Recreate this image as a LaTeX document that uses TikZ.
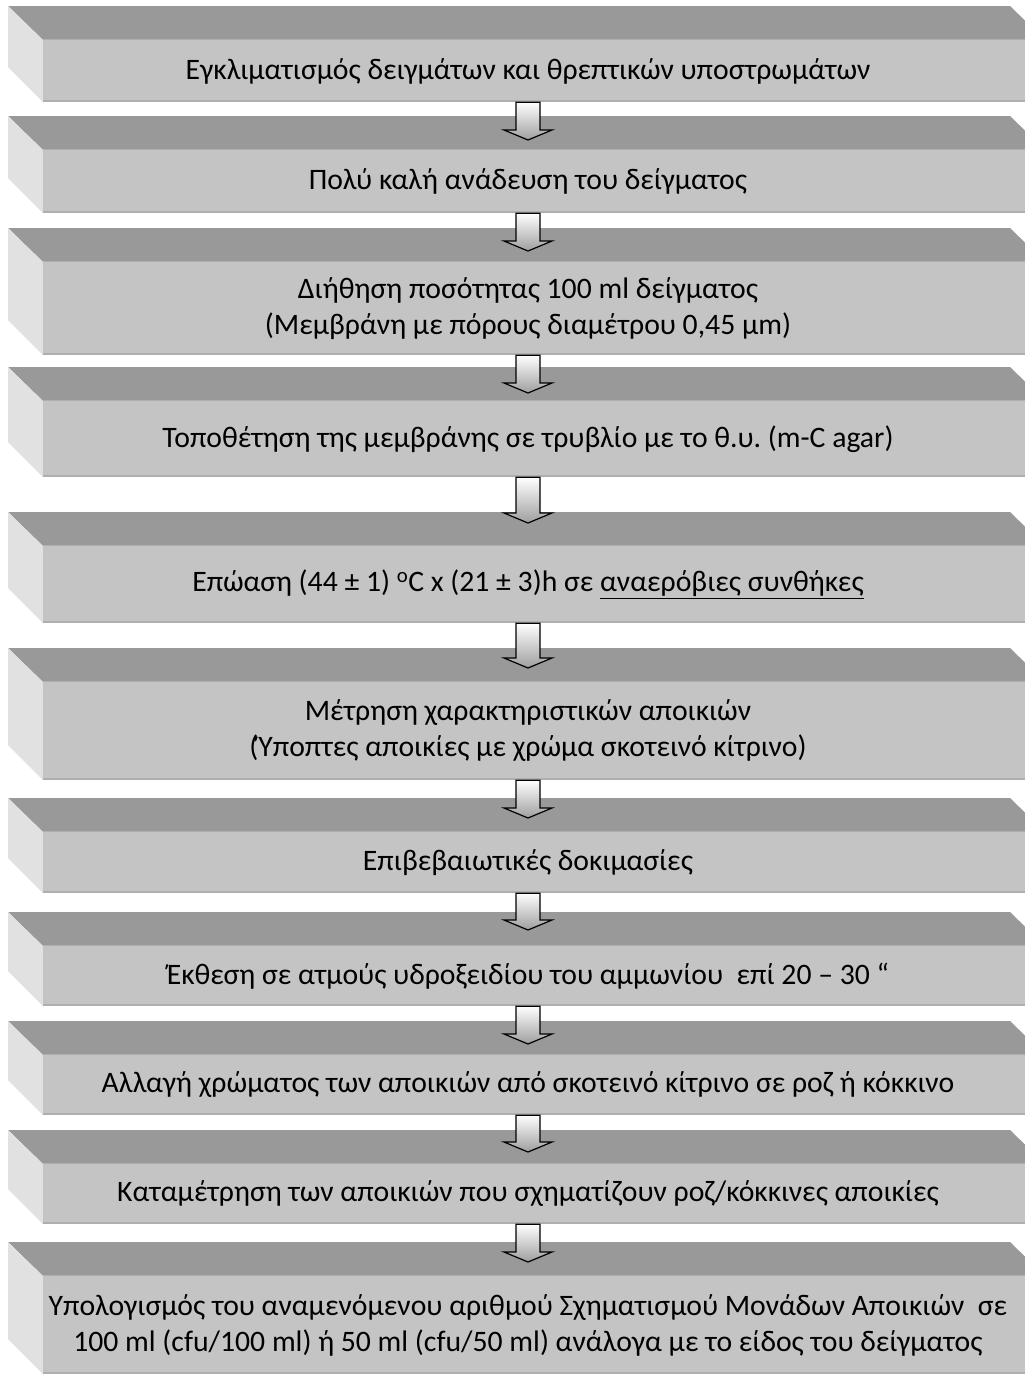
\documentclass[tikz,border=0pt]{standalone}
\usepackage{fontspec}
\setmainfont{Carlito}
\usetikzlibrary{calc}
\frenchspacing

\definecolor{frontgray}{HTML}{C4C4C4}
\definecolor{topgray}{HTML}{999999}
\definecolor{sidegray}{HTML}{E1E1E1}
\definecolor{edgegray}{HTML}{AFAFAF}

% one bevelled step: name, top, bottom, text
\newcommand{\stepbox}[4]{%
  \fill[topgray] (8,#2) -- (1010,#2) -- (1045,{#2+34}) -- (43,{#2+34}) -- cycle;
  \fill[sidegray] (8,#2) -- (43,{#2+34}) -- (43,#3) -- (8,{#3-35}) -- cycle;
  \node[face,minimum height={(#3-#2-34)*1pt}] (f#1) at (544,{(#2+34+#3)/2}) {};
  \draw[edgegray,line width=1pt] (f#1.north west) -- (f#1.north east);
  \draw[edgegray,line width=2.5pt] ([yshift=1.25pt]f#1.south west) -- ([yshift=1.25pt]f#1.south east);
  \node[steptext] (t#1) at (528,{(#2+34+#3)/2}) {#4};
}

% block arrow from a face down to a tip
\newcommand{\flowdown}[2]{%
  \draw[flowarrow] let \p1=(#1), \p2=(#2) in
    (\x1-12pt,\y1) -- (\x1+12pt,\y1) -- (\x1+12pt,\y2+10pt) -- (\x1+24pt,\y2+10pt)
    -- (\x1,\y2) -- (\x1-24pt,\y2+10pt) -- (\x1-12pt,\y2+10pt) -- cycle;
}

\begin{document}
\begin{tikzpicture}[x=1pt,y=-1pt,
  face/.style={fill=frontgray,minimum width=1002pt,inner sep=0pt,draw=none},
  steptext/.style={align=center,inner sep=0pt,font=\fontsize{29.7}{36}\selectfont},
  flowarrow/.style={draw=black,line width=1.2pt,line join=miter,top color=white,bottom color=black!38}]
\useasboundingbox (0,0) rectangle (1025,1377);
\clip (0,0) rectangle (1025,1377);

\stepbox{1}{6}{102}{Εγκλιματισμός δειγμάτων και θρεπτικών υποστρωμάτων}
\stepbox{2}{116}{213}{Πολύ καλή ανάδευση του δείγματος}
\stepbox{3}{228}{355}{Διήθηση ποσότητας 100 ml δείγματος\\(Μεμβράνη με πόρους διαμέτρου 0,45 μm)}
\stepbox{4}{367}{477}{Τοποθέτηση της μεμβράνης σε τρυβλίο με το θ.υ. (m-C agar)}
\stepbox{5}{512}{623}{Επώαση (44 ± 1) \textsuperscript{o}C x (21 ± 3)h σε \underline{αναερόβιες συνθήκες}}
\stepbox{6}{648}{780}{Μέτρηση χαρακτηριστικών αποικιών\\(Ύποπτες αποικίες με χρώμα σκοτεινό κίτρινο)}
\stepbox{7}{798}{893}{Επιβεβαιωτικές δοκιμασίες}
\stepbox{8}{912}{1006}{Έκθεση σε ατμούς υδροξειδίου του αμμωνίου\ \ επί 20 – 30 “}
\stepbox{9}{1021}{1115}{Αλλαγή χρώματος των αποικιών από σκοτεινό κίτρινο σε ροζ ή κόκκινο}
\stepbox{10}{1130}{1224}{Καταμέτρηση των αποικιών που σχηματίζουν ροζ/κόκκινες αποικίες}
\stepbox{11}{1242}{1374}{Υπολογισμός του αναμενόμενου αριθμού Σχηματισμού Μονάδων Αποικιών\ \ σε\\100 ml (cfu/100 ml) ή 50 ml (cfu/50 ml) ανάλογα με το είδος του δείγματος}

\coordinate (a1) at (528,140);
\coordinate (a2) at (528,251);
\coordinate (a3) at (528,393);
\coordinate (a4) at (528,523);
\coordinate (a5) at (528,668);
\coordinate (a6) at (528,818);
\coordinate (a7) at (528,930);
\coordinate (a8) at (528,1044);
\coordinate (a9) at (528,1152);
\coordinate (a10) at (528,1262);

\flowdown{f1.south -| t1}{a1}
\flowdown{f2.south -| t2}{a2}
\flowdown{f3.south -| t3}{a3}
\flowdown{f4.south -| t4}{a4}
\flowdown{f5.south -| t5}{a5}
\flowdown{f6.south -| t6}{a6}
\flowdown{f7.south -| t7}{a7}
\flowdown{f8.south -| t8}{a8}
\flowdown{f9.south -| t9}{a9}
\flowdown{f10.south -| t10}{a10}
\end{tikzpicture}
\end{document}
